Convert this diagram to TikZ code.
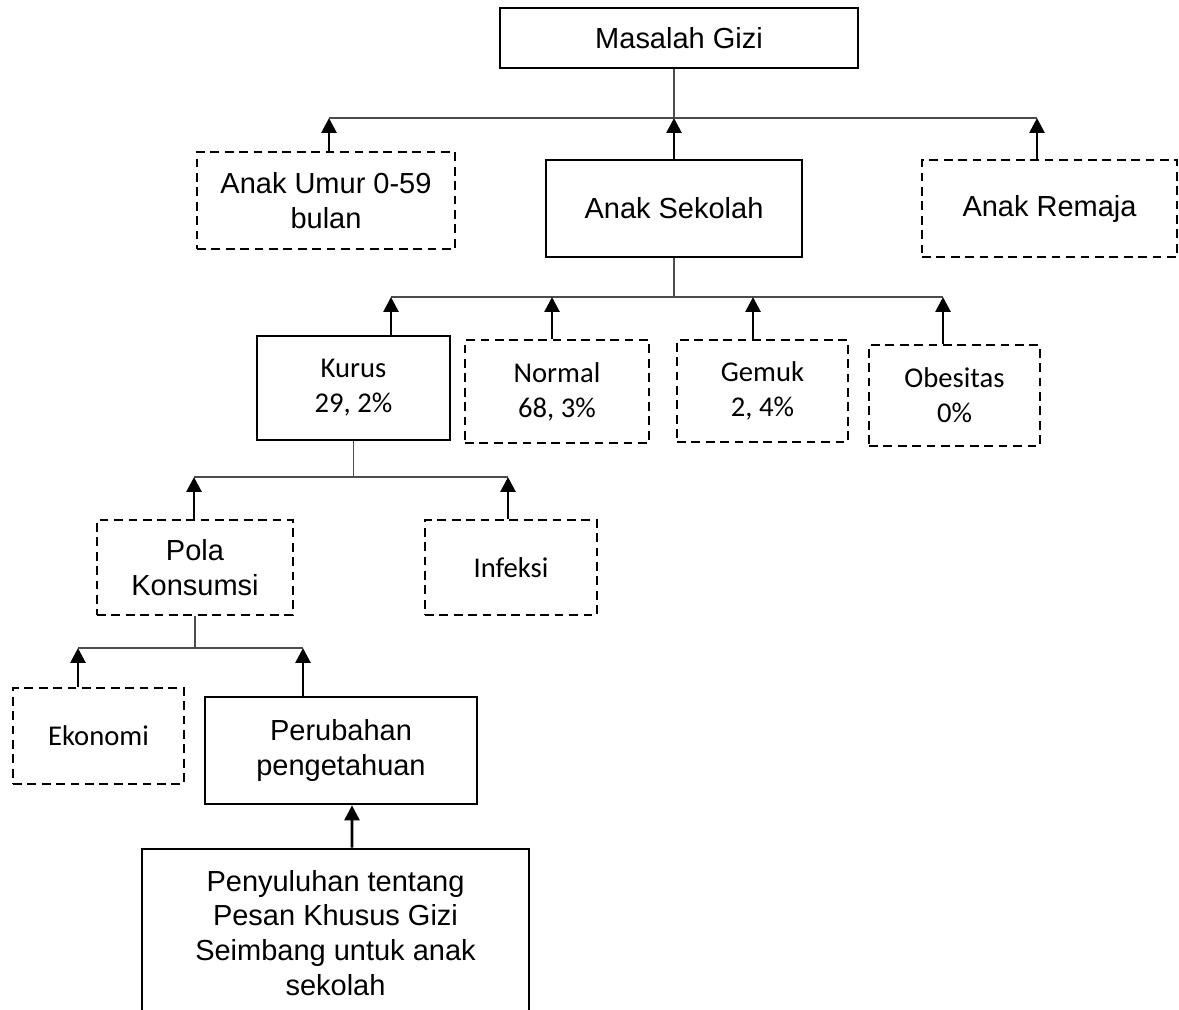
\documentclass[tikz,border=0pt]{standalone}
\usepackage{fontspec}
\setmainfont{Liberation Sans}
\newfontfamily\calibrifont{Carlito}
\usetikzlibrary{arrows.meta, positioning}

\begin{document}
\begin{tikzpicture}[
  x=0.02cm, y=-0.02cm,
  box/.style={draw, line width=1.5pt, inner sep=0pt, align=center, font=\fontsize{16.5}{19.8}\selectfont},
  dbox/.style={box, dash pattern=on 5pt off 3.2pt},
  cal/.style={font=\calibrifont\fontsize{16.3}{19.8}\selectfont},
  bus/.style={draw=black!70, line width=0.7pt},
  arr/.style={-{Triangle[width=8.5pt, length=8.5pt]}, line width=1.6pt}
]
  \useasboundingbox (0, 0) rectangle (1179, 1009);
  \clip (0, 0) rectangle (1179, 1009);

  % Masalah gizi and age groups
  \node[box, minimum width=7.16cm, minimum height=1.2cm] (gizi) at (679, 38) {Masalah Gizi};
  \node[dbox, minimum width=5.16cm, minimum height=1.94cm] (umur) at (326, 200.5) {Anak Umur 0-59\\bulan};
  \node[box, minimum width=5.12cm, minimum height=1.94cm] (sekolah) at (674, 208.5) {Anak Sekolah};
  \node[dbox, minimum width=5.1cm, minimum height=1.94cm] (remaja) at (1049.5, 208.5) {Anak Remaja};

  \coordinate (t-umur) at (329, 118);
  \coordinate (t-sekolah) at (674, 118);
  \coordinate (t-remaja) at (1037, 118);
  \draw[bus] (t-sekolah |- gizi.south) -- (t-sekolah);
  \draw[bus] (t-umur) -- (t-remaja);
  \draw[arr] (umur.north -| t-umur) -- (t-umur);
  \draw[arr] (sekolah.north -| t-sekolah) -- (t-sekolah);
  \draw[arr] (remaja.north -| t-remaja) -- (t-remaja);

  % Status gizi anak sekolah
  \node[box, cal, minimum width=3.86cm, minimum height=2.08cm] (kurus) at (353.5, 388) {Kurus\\29, 2\%};
  \node[dbox, cal, minimum width=3.68cm, minimum height=2.06cm] (normal) at (557, 391.5) {Normal\\68, 3\%};
  \node[dbox, cal, minimum width=3.42cm, minimum height=2.04cm] (gemuk) at (762.5, 391) {Gemuk\\2, 4\%};
  \node[dbox, cal, minimum width=3.42cm, minimum height=2.02cm] (obesitas) at (954.5, 395.5) {Obesitas\\0\%};

  \coordinate (t-kurus) at (391, 297);
  \coordinate (t-normal) at (552, 297);
  \coordinate (t-gemuk) at (753, 297);
  \coordinate (t-obesitas) at (943, 297);
  \draw[bus] (sekolah.south) -- (sekolah.south |- t-kurus);
  \draw[bus] (t-kurus) -- (t-obesitas);
  \draw[arr] (kurus.north -| t-kurus) -- (t-kurus);
  \draw[arr] (normal.north -| t-normal) -- (t-normal);
  \draw[arr] (gemuk.north -| t-gemuk) -- (t-gemuk);
  \draw[arr] (obesitas.north -| t-obesitas) -- (t-obesitas);

  % Penyebab kurus
  \node[dbox, minimum width=3.92cm, minimum height=1.9cm] (pola) at (195, 567.5) {Pola\\Konsumsi};
  \node[dbox, cal, minimum width=3.44cm, minimum height=1.9cm] (infeksi) at (511, 567.5) {Infeksi};

  \coordinate (t-pola) at (194, 477);
  \coordinate (t-infeksi) at (508, 477);
  \draw[bus] (kurus.south) -- (kurus.south |- t-pola);
  \draw[bus] (t-pola) -- (t-infeksi);
  \draw[arr] (pola.north -| t-pola) -- (t-pola);
  \draw[arr] (infeksi.north -| t-infeksi) -- (t-infeksi);

  % Pola konsumsi
  \node[dbox, cal, minimum width=3.42cm, minimum height=1.92cm] (ekonomi) at (98.5, 736) {Ekonomi};
  \node[box, minimum width=5.44cm, minimum height=2.14cm] (perubahan) at (341, 750.5) {Perubahan\\pengetahuan};

  \coordinate (t-ekonomi) at (78, 648);
  \coordinate (t-perubahan) at (303, 648);
  \draw[bus] (pola.south) -- (pola.south |- t-ekonomi);
  \draw[bus] (t-ekonomi) -- (t-perubahan);
  \draw[arr] (ekonomi.north -| t-ekonomi) -- (t-ekonomi);
  \draw[arr] (perubahan.north -| t-perubahan) -- (t-perubahan);

  % Intervensi
  \node[box, minimum width=7.74cm, minimum height=3.36cm] (penyuluhan) at (335.5, 933) {Penyuluhan tentang\\Pesan Khusus Gizi\\Seimbang untuk anak\\sekolah};
  \draw[arr] ([xshift=0.33cm]penyuluhan.north) -- ([xshift=0.22cm]perubahan.south);
\end{tikzpicture}
\end{document}
